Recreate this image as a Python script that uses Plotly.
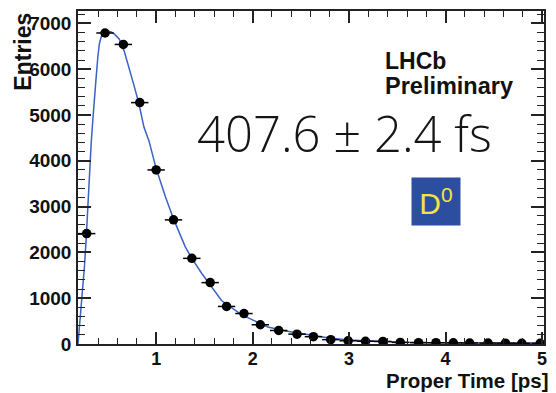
import plotly.graph_objects as go

# D0 proper-time distribution: binned data (bin centres, entries)
time_ps = [0.28, 0.47, 0.66, 0.83, 1.00, 1.18, 1.37, 1.56, 1.73, 1.91, 2.08, 2.27,
           2.46, 2.63, 2.81, 2.99, 3.17, 3.35, 3.53, 3.72, 3.90, 4.08, 4.25, 4.44,
           4.62, 4.79, 4.98]
entries = [2410, 6790, 6540, 5270, 3800, 2710, 1870, 1340, 820, 665, 420, 295,
           215, 160, 95, 70, 60, 55, 35, 30, 28, 25, 22, 20,
           18, 16, 15]
bin_half_width = 0.09

# Lifetime fit curve
fit_t = [0.19, 0.205, 0.22, 0.24, 0.257, 0.275, 0.291, 0.309, 0.327, 0.344, 0.36,
         0.378, 0.395, 0.411, 0.43, 0.463, 0.497, 0.535, 0.565, 0.617, 0.668, 0.72,
         0.771, 0.822, 0.874, 0.925, 1.0, 1.097, 1.182, 1.302, 1.37, 1.473, 1.559,
         1.678, 1.883, 2.158, 2.329, 2.466, 2.637, 2.808, 2.997, 3.185, 3.356, 3.562,
         3.87, 4.315, 5.0]
fit_n = [0, 380, 810, 1200, 1700, 2300, 2990, 3900, 4400, 4900, 5400,
         5820, 6250, 6550, 6700, 6820, 6830, 6810, 6770, 6660, 6400, 6040,
         5640, 5240, 4730, 4440, 3830, 3210, 2720, 2120, 1870, 1540, 1300,
         950, 640, 370, 290, 240, 175, 125, 88, 70, 52, 40,
         30, 25, 20]

x_ticks = [1, 2, 3, 4, 5]
y_ticks = [0, 1000, 2000, 3000, 4000, 5000, 6000, 7000]

lifetime_label = "407.6 \u00b1 2.4 fs"

BOLD = "Liberation Sans, Arial, Helvetica, sans-serif"
FRAME = "#222222"
INK = "#111111"

fig = go.Figure()

fig.add_trace(go.Scatter(
    x=fit_t, y=fit_n, mode="lines",
    line=dict(color="#3a63c4", width=1.5),
    hoverinfo="skip", showlegend=False,
))

fig.add_trace(go.Scatter(
    x=time_ps, y=entries, mode="markers",
    marker=dict(color="black", size=9.5, symbol="circle"),
    error_x=dict(type="constant", value=bin_half_width, color="black",
                 thickness=1.5, width=0),
    showlegend=False,
))

axis_common = dict(
    showgrid=False, zeroline=False,
    showline=True, linecolor=FRAME, linewidth=1.5, mirror="allticks",
    ticks="inside", tickcolor=FRAME, tickwidth=1.5,
)

fig.update_xaxes(
    range=[0.19, 5.02], tickvals=x_ticks, ticktext=[str(v) for v in x_ticks],
    ticklen=12, ticklabelstandoff=-2,
    tickfont=dict(family=BOLD, size=18, color=INK, weight="bold"),
    minor=dict(dtick=0.2, tick0=0, ticks="inside", ticklen=6,
               tickcolor=FRAME, tickwidth=1.2, showgrid=False),
    **axis_common,
)
fig.update_yaxes(
    range=[0, 7270], tickvals=y_ticks, ticktext=[str(v) for v in y_ticks],
    ticklen=13, ticklabelstandoff=1,
    tickfont=dict(family=BOLD, size=19, color=INK, weight="bold"),
    minor=dict(dtick=200, tick0=0, ticks="inside", ticklen=7,
               tickcolor=FRAME, tickwidth=1.2, showgrid=False),
    **axis_common,
)

annotations = [
    dict(text="Entries", textangle=-90, x=-0.118, y=0.878,
         xref="paper", yref="paper", xanchor="center", yanchor="middle",
         showarrow=False, font=dict(family=BOLD, size=23, color=INK, weight="bold")),
    dict(text="Proper Time [ps]", x=1.0128, y=-0.1465, borderpad=0,
         xref="paper", yref="paper", xanchor="right", yanchor="bottom",
         showarrow=False, font=dict(family=BOLD, size=20.5, color=INK, weight="bold")),
    dict(text="LHCb", x=0.655, y=0.85,
         xref="paper", yref="paper", xanchor="left", yanchor="middle",
         showarrow=False, font=dict(family=BOLD, size=23, color=INK, weight="bold")),
    dict(text="Preliminary", x=0.655, y=0.775,
         xref="paper", yref="paper", xanchor="left", yanchor="middle",
         showarrow=False, font=dict(family=BOLD, size=23.5, color=INK, weight="bold")),
    dict(text=lifetime_label, x=0.5725, y=0.633,
         xref="paper", yref="paper", xanchor="center", yanchor="middle",
         showarrow=False, font=dict(family="Open Sans, Lato, sans-serif", size=49,
                                    color="#151515", weight=300)),
    dict(text="D<sup>0</sup>", x=0.768, y=0.428,
         xref="paper", yref="paper", xanchor="center", yanchor="middle",
         width=48, height=47, bgcolor="#2c4e9e", borderpad=0,
         showarrow=False, font=dict(family="Liberation Sans, Arial, sans-serif",
                                    size=30, color="#f2e445")),
]

fig.update_layout(
    width=556, height=393,
    margin=dict(l=78, r=9, t=11, b=49),
    paper_bgcolor="white", plot_bgcolor="white",
    annotations=annotations,
)

fig.write_html("out.html")
